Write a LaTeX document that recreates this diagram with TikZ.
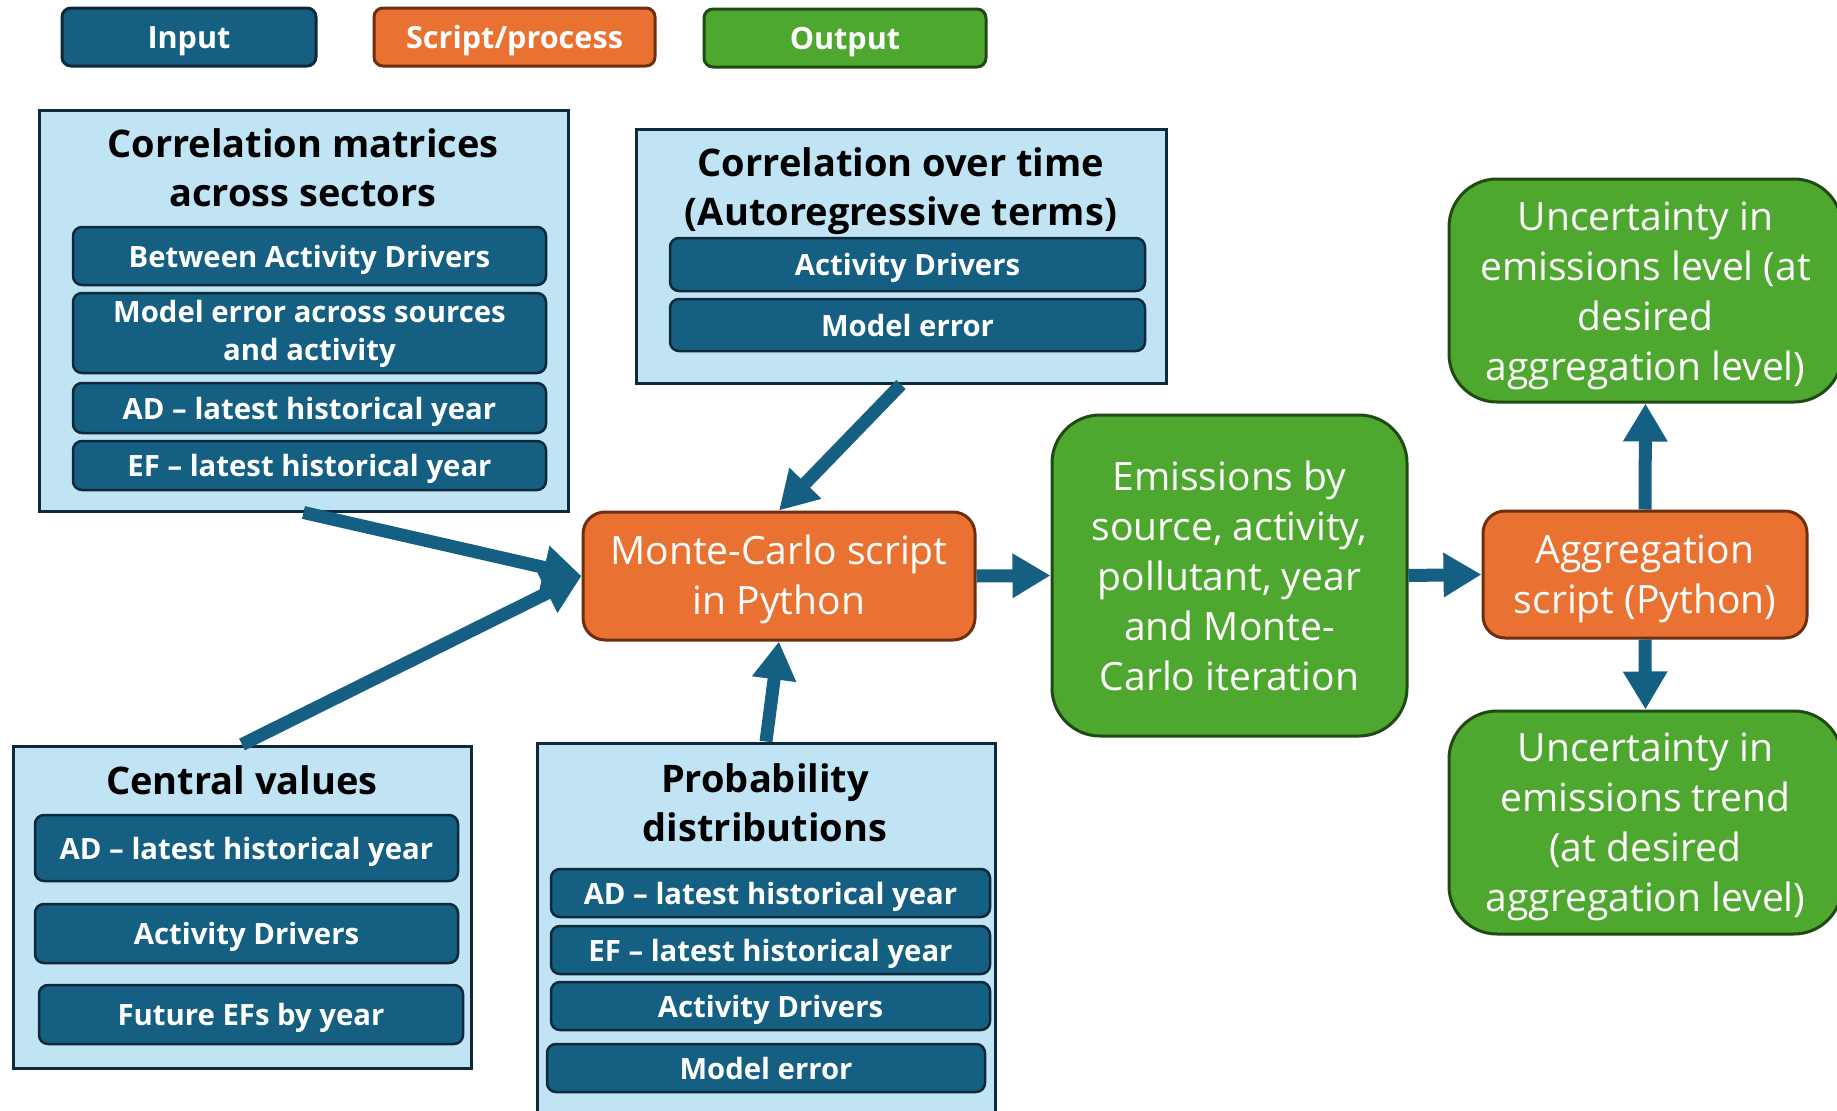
\documentclass[tikz,border=0pt]{standalone}
\usepackage{fontspec}
\setmainfont{Open Sans}
\usetikzlibrary{arrows.meta}
\definecolor{inblue}{HTML}{156082}
\definecolor{indark}{HTML}{0E2A3A}
\definecolor{lblue}{HTML}{C1E4F5}
\definecolor{orfill}{HTML}{E97132}
\definecolor{ordark}{HTML}{6E2E10}
\definecolor{grfill}{HTML}{4EA72E}
\definecolor{grdark}{HTML}{1F4A14}
\newcommand{\lowerby}[1]{\rule{0pt}{#1}}
\tikzset{
  inbox/.style={rectangle, rounded corners=9pt, fill=inblue, draw=indark, line width=2.5pt,
    text=white, font=\bfseries\fontsize{29.3}{38}\selectfont, align=center, inner sep=0pt},
  inone/.style={inbox, text height=28pt, text depth=6pt},
  legbox/.style={rectangle, rounded corners=9pt, line width=3pt, text=white,
    font=\bfseries\fontsize{30.6}{36}\selectfont, align=center, inner sep=0pt,
    text height=29pt, text depth=7pt},
  grp/.style={rectangle, fill=lblue, draw=indark, line width=3pt, inner sep=0pt},
  grptitle/.style={text=black, font=\bfseries\fontsize{38}{49}\selectfont, align=center, inner sep=0pt},
  proc/.style={rectangle, rounded corners=22pt, fill=orfill, draw=ordark, line width=3pt,
    text=white, font=\fontsize{39}{50}\selectfont, align=center, inner sep=0pt},
  outp/.style={rectangle, rounded corners=48pt, fill=grfill, draw=grdark, line width=3pt,
    text=white, font=\fontsize{39}{50}\selectfont, align=center, inner sep=0pt},
  arr/.style={draw=inblue, line width=13pt, -{Triangle[width=42pt,length=38pt]}}
}
\begin{document}
\begin{tikzpicture}[x=1pt,y=-1pt]
\useasboundingbox (0,0) rectangle (1837,1111);
% legend
\node[legbox, fill=inblue, draw=indark, minimum width=254pt, minimum height=58pt] (legIn) at (189,37) {Input};
\node[legbox, fill=orfill, draw=ordark, minimum width=281pt, minimum height=58pt] (legSc) at (514.5,37) {Script/process};
\node[legbox, fill=grfill, draw=grdark, minimum width=282pt, minimum height=58pt] (legOut) at (845,38) {Output};

% group 1
\node[grp, minimum width=529pt, minimum height=401pt] (g1) at (303.5,310.5) {};
\node[grptitle] (g1t) at (303,168) {Correlation matrices\\across sectors};
\node[inone, minimum width=473pt, minimum height=58pt] (g1a) at (309.5,256) {Between Activity Drivers};
\node[inbox, minimum width=473pt, minimum height=80pt] (g1b) at (309.5,333) {\lowerby{24pt}Model error across sources\\and activity};
\node[inone, minimum width=473pt, minimum height=50pt] (g1c) at (309.5,408) {AD -- latest historical year};
\node[inone, minimum width=473pt, minimum height=49pt] (g1d) at (309.5,465.5) {EF -- latest historical year};

% group 2
\node[grp, minimum width=530pt, minimum height=254pt] (g2) at (901,256) {};
\node[grptitle] (g2t) at (901,191) {Correlation over time\\(Autoregressive terms)};
\node[inone, minimum width=475pt, minimum height=53pt] (g2a) at (907.5,264.5) {Activity Drivers};
\node[inone, minimum width=475pt, minimum height=52pt] (g2b) at (907.5,325) {Model error};

% group 3
\node[grp, minimum width=458pt, minimum height=322pt] (g3) at (242,907) {};
\node[grptitle] (g3t) at (242,780) {Central values};
\node[inone, minimum width=423pt, minimum height=66pt] (g3a) at (246.5,848) {AD -- latest historical year};
\node[inone, minimum width=423pt, minimum height=59pt] (g3b) at (246.5,933.5) {Activity Drivers};
\node[inone, minimum width=424pt, minimum height=59pt] (g3c) at (251,1014.5) {Future EFs by year};

% group 4
\node[grp, minimum width=458pt, minimum height=377pt] (g4) at (766,931.5) {};
\node[grptitle] (g4t) at (765,802.5) {Probability\\distributions};
\node[inone, minimum width=439pt, minimum height=48pt] (g4a) at (770.5,893) {AD -- latest historical year};
\node[inone, minimum width=439pt, minimum height=48pt] (g4b) at (770.5,950) {EF -- latest historical year};
\node[inone, minimum width=439pt, minimum height=48pt] (g4c) at (770.5,1006) {Activity Drivers};
\node[inone, minimum width=438pt, minimum height=48pt] (g4d) at (766,1068) {Model error};

% process / outputs
\node[proc, minimum width=392pt, minimum height=128pt] (mc) at (779,576) {\lowerby{37pt}Monte-Carlo script\\in Python};
\node[outp, minimum width=355pt, minimum height=321pt] (em) at (1229.5,575.5) {Emissions by\\source, activity,\\pollutant, year\\and Monte-\\Carlo iteration};
\node[proc, minimum width=324pt, minimum height=127pt] (agg) at (1645,574.5) {\lowerby{37pt}Aggregation\\script (Python)};
\node[outp, minimum width=393pt, minimum height=223pt] (ul) at (1645.5,290.5) {\lowerby{39pt}Uncertainty in\\emissions level (at\\desired\\aggregation level)};
\node[outp, minimum width=393pt, minimum height=223pt] (ut) at (1645.5,822.5) {\lowerby{38pt}Uncertainty in\\emissions trend\\(at desired\\aggregation level)};

% arrows
\draw[arr] (g1.south) -- (mc.west);
\draw[arr] (g3.north) -- (mc.west);
\draw[arr] (g2.south) -- (mc.north);
\draw[arr] (g4.north) -- (mc.south);
\draw[arr] (mc.east) -- (em.west);
\draw[arr] (em.east) -- (agg.west);
\draw[arr] (agg.north) -- (ul.south);
\draw[arr] (agg.south) -- (ut.north);
\end{tikzpicture}
\end{document}
